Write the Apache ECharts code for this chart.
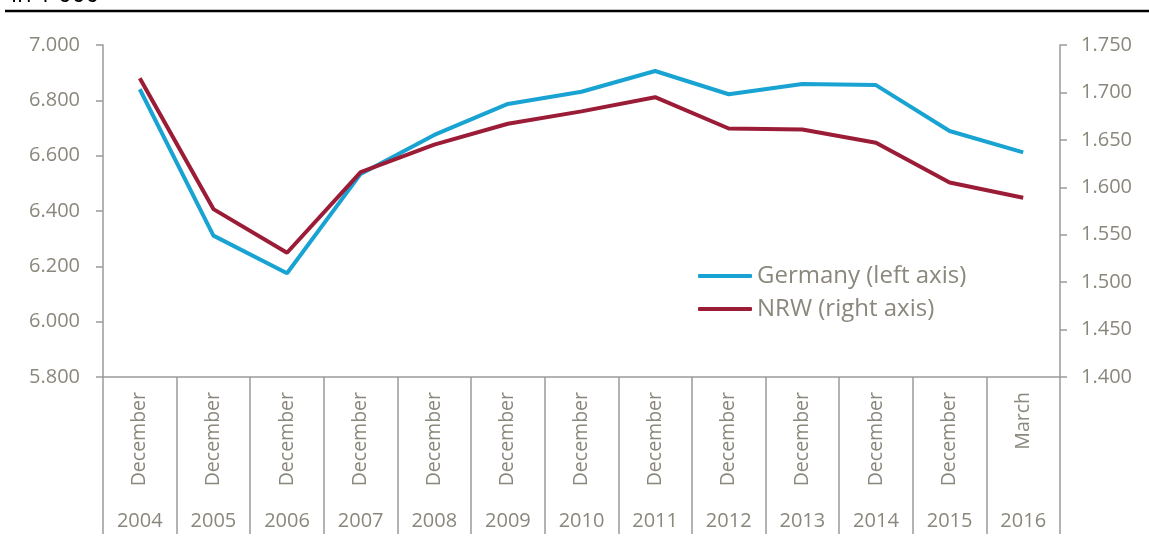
<!DOCTYPE html>
<html>
<head>
<meta charset="utf-8">
<script src="https://cdn.jsdelivr.net/npm/echarts@6/dist/echarts.min.js"></script>
<style>
html,body{margin:0;padding:0;background:#fff;}
#chart{width:1149px;height:541px;}
</style>
</head>
<body>
<div id="chart"></div>
<script>
var months = ['December','December','December','December','December','December','December','December','December','December','December','December','March'];
var years = ['2004','2005','2006','2007','2008','2009','2010','2011','2012','2013','2014','2015','2016'];
var germany = [6840, 6311, 6175, 6534, 6675, 6787, 6831, 6906, 6822, 6859, 6855, 6689, 6612];
var nrw = [1715, 1577, 1531, 1616, 1645, 1667, 1680, 1695, 1662, 1661, 1647, 1605, 1589];
var leftTicks = {min: 5800, max: 7000, interval: 200};
var rightTicks = {min: 1400, max: 1750, interval: 50};

var textColor = '#8a877c';
var axisColor = '#9a9a9a';
var font = 'Open Sans';
function fmt(v){ return (v/1000).toFixed(3); }

var chart = echarts.init(document.getElementById('chart'));
chart.setOption({
  animation: false,
  backgroundColor: '#fff',
  textStyle: {fontFamily: font},
  grid: {left: 103, right: 89, top: 45, bottom: 164},
  graphic: [
    {type: 'text', x: 11, y: 7, style: {text: 'in 1 000', font: '24px "Open Sans"', fill: '#000', textVerticalAlign: 'bottom', verticalAlign: 'bottom'}},
    {type: 'line', shape: {x1: 5, y1: 11, x2: 1149, y2: 11}, style: {stroke: '#000', lineWidth: 2.5}}
  ],
  legend: {
    orient: 'vertical', left: 698, top: 264, padding: 0,
    itemWidth: 54, itemHeight: 4, itemGap: 9,
    icon: 'roundRect',
    textStyle: {fontFamily: font, fontSize: 24, color: textColor, lineHeight: 24},
    data: ['Germany (left axis)', 'NRW (right axis)']
  },
  xAxis: [
    {
      type: 'category', data: months, position: 'bottom', boundaryGap: true,
      axisLine: {show: true, lineStyle: {color: axisColor, width: 1.5}},
      axisTick: {show: true, interval: 0, length: 157, lineStyle: {color: axisColor, width: 1.5}},
      axisLabel: {interval: 0, rotate: 90, margin: 15, fontSize: 19.5, color: textColor, fontFamily: font}
    },
    {
      type: 'category', data: years, position: 'bottom', boundaryGap: true,
      axisLine: {show: false}, axisTick: {show: false},
      axisLabel: {interval: 0, margin: 134, fontSize: 20, color: textColor, fontFamily: font}
    }
  ],
  yAxis: [
    {
      type: 'value', position: 'left', min: leftTicks.min, max: leftTicks.max, interval: leftTicks.interval,
      axisLine: {show: true, lineStyle: {color: axisColor, width: 1.5}},
      axisTick: {show: true, length: 7, lineStyle: {color: axisColor, width: 1.5}},
      splitLine: {show: false},
      axisLabel: {formatter: fmt, margin: 23, fontSize: 20, color: textColor, fontFamily: font}
    },
    {
      type: 'value', position: 'right', min: rightTicks.min, max: rightTicks.max, interval: rightTicks.interval,
      axisLine: {show: true, lineStyle: {color: axisColor, width: 1.5}},
      axisTick: {show: true, length: 7, lineStyle: {color: axisColor, width: 1.5}},
      splitLine: {show: false},
      axisLabel: {formatter: fmt, margin: 21, fontSize: 20, color: textColor, fontFamily: font}
    }
  ],
  series: [
    {
      name: 'Germany (left axis)', type: 'line', xAxisIndex: 0, yAxisIndex: 0, data: germany,
      symbol: 'none', lineStyle: {color: '#18a3d2', width: 4}, itemStyle: {color: '#18a3d2'}
    },
    {
      name: 'NRW (right axis)', type: 'line', xAxisIndex: 0, yAxisIndex: 1, data: nrw,
      symbol: 'none', lineStyle: {color: '#9b1c36', width: 4}, itemStyle: {color: '#9b1c36'}
    }
  ]
});
</script>
</body>
</html>
